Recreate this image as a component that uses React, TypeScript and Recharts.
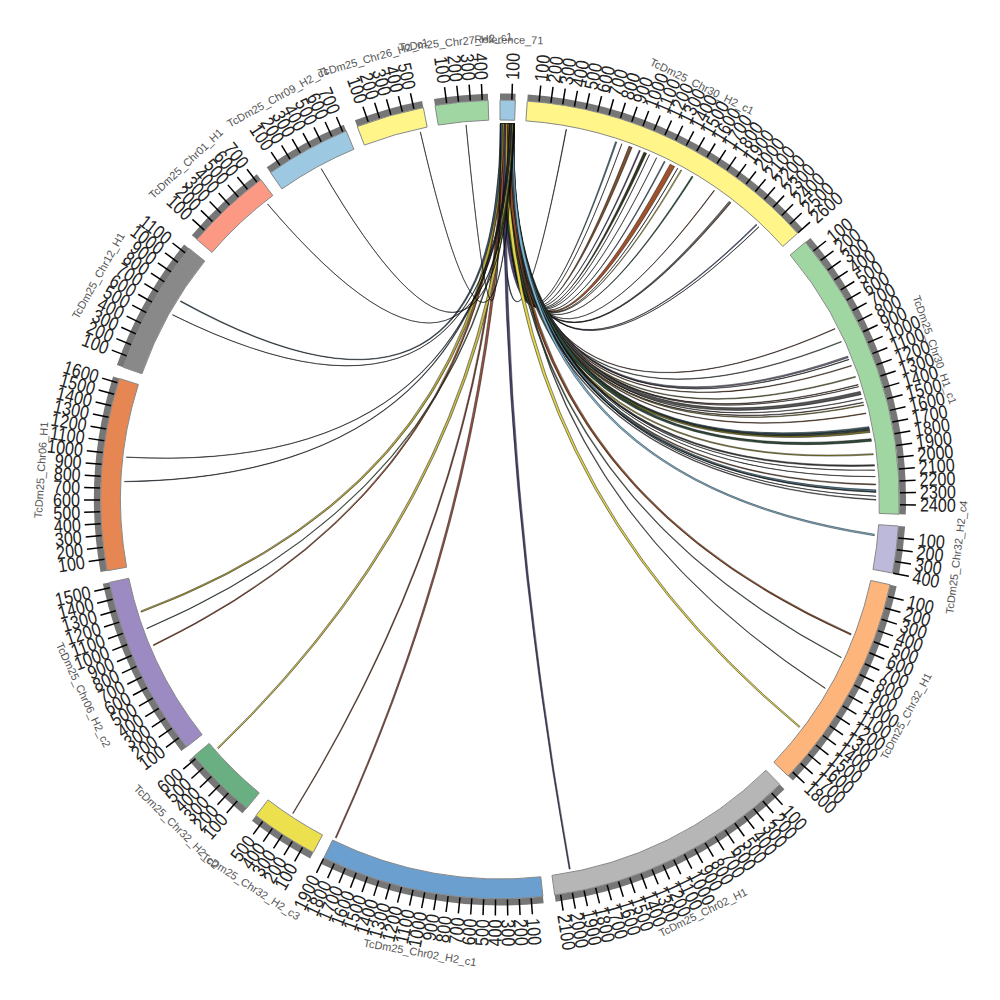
import React from 'react';
import { PieChart, Pie, Cell } from 'recharts';

const sectorNames = ['Reference_71','TcDm25_Chr30_H2_c1','TcDm25_Chr30_H1_c1','TcDm25_Chr32_H2_c4','TcDm25_Chr32_H1','TcDm25_Chr02_H1','TcDm25_Chr02_H2_c1','TcDm25_Chr32_H2_c3','TcDm25_Chr32_H2_c2','TcDm25_Chr06_H2_c2','TcDm25_Chr06_H1','TcDm25_Chr12_H1','TcDm25_Chr01_H1','TcDm25_Chr09_H2_c1','TcDm25_Chr26_H2_c1','TcDm25_Chr27_H2_c1'];
const sectorSizes = [130,2600,2480,400,1850,2150,1900,575,625,1545,1640,1150,740,730,580,450];
const sectorColors = ['#9CC8E2','#FFF588','#A0D6A2','#BDB9DA','#FDB57B','#B6B6B6','#6A9FD0','#EDE04F','#6AAF81','#9B8BC2','#E68653','#898989','#FC9985','#9CC8E2','#FFF588','#A0D6A2'];
const GAP_KB = 100;

const linkSector = [1,1,1,1,1,1,1,1,1,1,1,1,1,1,1,1,1,1, 2,2,2,2,2,2,2,2,2,2,2,2,2,2,2,2,2,2,2,2,2,2,2,2,2,2, 3, 4,4,4,4, 5, 6, 7, 8, 9,9,9, 10,10, 11,11, 12, 13, 14, 15];
const linkStart = [364,821,880,948,1047,1092,1145,1215,1291,1350,1426,1459,1573,1808,1975,1992,2293,2325, 768,896,1040,1070,1129,1234,1310,1375,1440,1475,1499,1575,1700,1718,1738,1810,1945,2044,2092,2218,2270,2288,2326,2356,1330,2150, 87, 505,733,1044,1455, 1980, 1878, 322, 536, 905,1068,1224, 762,982, 591,729, 656, 392, 511, 245];
const linkSpan = [5,12,2,30,10,26,2,2,9,46,2,9,12,5,14,4,9,2, 5,6,15,4,6,8,6,30,4,6,6,6,18,18,15,23,10,13,2,8,17,5,2,6,2,2, 14, 12,5,4,13, 10, 10, 6, 12, 8,4,12, 4,3, 2,8, 2, 2, 2, 2];
const linkRef = [8,88,96,70,14,54,104,36,78,62,110,46,28,92,40,58,74,84, 50,24,68,112,42,33,100,60,118,18,38,80,66,52,12,76,30,44,122,56,86,72,106,26,98,116, 100, 64,48,108,34, 30, 22, 16, 90, 20,120,6, 94,102, 82,3, 125, 127, 124, 1];
const linkColors = ['#2F5060','#4A7A94','#333','#7A5030','#5A4A80','#30381F','#333','#666','#5A8299','#A0522D','#333','#D4C850','#1F5A3A','#8A4A30','#777','#B07040','#5A6FA0','#333',
  '#8A4A30','#5F7F5A','#77708A','#444','#8A4A28','#8F8A40','#5A3020','#555555','#444','#5A3525','#B5A83E','#9A6030','#42606E','#3A4A44','#8A8230','#2F4A3A','#A89E3A','#444','#333','#8A5A3A','#5A7F90','#555','#333','#666','#8A5A3A','#333',
  '#7FB6D2', '#8A4A25','#4F6F4F','#666','#E0D450', '#4A4570', '#9A5545', '#8A4A30', '#C8BC50', '#9A5030','#4F6F4F','#B5A83E', '#3A5060','#3A5060', '#333','#3A5A70', '#333','#333','#333','#333'];

const TICK_STEP = 100;
const sectorStarts = sectorSizes.reduce<number[]>((acc, s, i) => [...acc, i === 0 ? 0 : acc[i - 1] + sectorSizes[i - 1] + GAP_KB], []);
const totalKb = sectorSizes.reduce((a, b) => a + b, 0) + GAP_KB * sectorSizes.length;

const ringData = sectorSizes.flatMap((size, i) => [
  { value: size, kind: 'sector', sector: i },
  { value: GAP_KB, kind: 'gap', sector: i },
]);

const tickData = sectorSizes.flatMap((size, i) => {
  const rows: any[] = [];
  let at = 0;
  while (at + TICK_STEP <= size) {
    at += TICK_STEP;
    rows.push({ value: TICK_STEP, kind: 'tick', text: String(at) });
  }
  if (size > at) rows.push({ value: size - at, kind: 'rest' });
  rows.push({ value: GAP_KB, kind: 'gap' });
  return rows;
});

const linkOrder = linkSector.map((_, i) => i).sort((a, b) => (sectorStarts[linkSector[a]] + linkStart[a]) - (sectorStarts[linkSector[b]] + linkStart[b]));
const linkData: any[] = [];
{
  let cursor = 0;
  linkOrder.forEach((i) => {
    const from = sectorStarts[linkSector[i]] + linkStart[i];
    if (from > cursor) linkData.push({ value: from - cursor, kind: 'gap' });
    linkData.push({ value: linkSpan[i], kind: 'link', link: i });
    cursor = Math.max(cursor, from) + linkSpan[i];
  });
  if (cursor < totalKb) linkData.push({ value: totalKb - cursor, kind: 'gap' });
}

const CX = 500;
const CY = 499.5;
const R_INNER = 379.5;
const R_OUTER = 399.3;
const R_STRIP = 406;
const R_LINK = 376;
const CTRL_Y = 477;
const CTRL_SPREAD = 0.5;
const REF_WIDEN = 2.5;
const TICK_IN = 400;
const TICK_OUT = 416;
const TICK_TEXT = 420;
const NAME_R = 460;

const polar = (deg: number, r: number) => {
  const t = (deg * Math.PI) / 180;
  return [CX + r * Math.cos(t), CY - r * Math.sin(t)];
};

const renderLink = (p: any) => {
  const row = p.payload ?? p;
  if (row.kind !== 'link') return <g key={p.index} />;
  const i = row.link;
  const a1 = p.startAngle;
  const a2 = p.endAngle;
  const refEnd = Math.min(sectorSizes[0], linkRef[i] + linkSpan[i] * REF_WIDEN);
  const r1 = 90 - (linkRef[i] * 360) / totalKb;
  const r2 = 90 - (refEnd * 360) / totalKb;
  const A = polar(a1, R_LINK);
  const B = polar(a2, R_LINK);
  const C = polar(r1, R_LINK);
  const D = polar(r2, R_LINK);
  const vx = (B[0] - A[0] + C[0] - D[0]) / 2;
  const vy = (B[1] - A[1] + C[1] - D[1]) / 2;
  const c1 = [CX - CTRL_SPREAD * vx, CTRL_Y - CTRL_SPREAD * vy];
  const c2 = [CX + CTRL_SPREAD * vx, CTRL_Y + CTRL_SPREAD * vy];
  const d = `M${A[0]},${A[1]} A${R_LINK},${R_LINK} 0 0 1 ${B[0]},${B[1]} Q${c2[0]},${c2[1]} ${C[0]},${C[1]} A${R_LINK},${R_LINK} 0 0 1 ${D[0]},${D[1]} Q${c1[0]},${c1[1]} ${A[0]},${A[1]} Z`;
  return <path key={p.index} d={d} fill={linkColors[i]} stroke="#000" strokeWidth={0.45} />;
};

const renderTick = (p: any) => {
  const row = p.payload ?? p;
  if (row.kind !== 'tick') return <g key={p.index} />;
  const a = p.endAngle;
  const theta = 90 - a;
  const norm = ((theta % 360) + 360) % 360;
  const [x1, y1] = polar(a, TICK_IN);
  const [x2, y2] = polar(a, TICK_OUT);
  const [tx, ty] = polar(a, TICK_TEXT);
  const right = norm < 180;
  const rot = right ? norm - 90 : norm + 90;
  return (
    <g key={p.index}>
      <line x1={x1} y1={y1} x2={x2} y2={y2} stroke="#000" strokeWidth={1.5} />
      <text x={0} y={0} transform={`translate(${tx} ${ty}) rotate(${rot}) scale(0.85 1)`} textAnchor={right ? 'start' : 'end'} dominantBaseline="central" fontFamily="Liberation Sans" fontSize={19} fill="#222" stroke="none">{row.text}</text>
    </g>
  );
};

const renderName = (p: any) => {
  const row = p.payload ?? p;
  if (row.kind !== 'sector') return <g key={p.index} />;
  const a = (p.startAngle + p.endAngle) / 2;
  const theta = ((90 - a) % 360 + 360) % 360;
  const [x, y] = polar(a, NAME_R);
  const rot = theta > 90 && theta < 270 ? theta - 180 : theta;
  return <text key={p.index} x={x} y={y} transform={`rotate(${rot} ${x} ${y})`} textAnchor="middle" dominantBaseline="central" fontFamily="Liberation Sans" fontSize={11} fill="#555" stroke="none">{sectorNames[row.sector]}</text>;
};

const common = { dataKey: 'value', cx: CX, cy: CY, startAngle: 90, endAngle: -270, paddingAngle: 0, isAnimationActive: false, labelLine: false };

export default function App() {
  return (
    <div style={{ position: 'absolute', left: 0, top: 0, width: 1000, height: 1000, background: '#fff' }}>
      <PieChart width={1000} height={1000} margin={{ top: 0, right: 0, bottom: 0, left: 0 }}>
        <Pie {...common} data={linkData} innerRadius={R_LINK - 1} outerRadius={R_LINK} label={renderLink}>
          {linkData.map((_, i) => <Cell key={i} fill="none" stroke="none" />)}
        </Pie>
        <Pie {...common} data={ringData} innerRadius={R_OUTER} outerRadius={R_STRIP} label={false}>
          {ringData.map((d, i) => <Cell key={i} fill={d.kind === 'gap' ? 'none' : '#767676'} stroke="none" />)}
        </Pie>
        <Pie {...common} data={ringData} innerRadius={R_INNER} outerRadius={R_OUTER} label={renderName}>
          {ringData.map((d, i) => <Cell key={i} fill={d.kind === 'gap' ? 'none' : sectorColors[d.sector]} stroke={d.kind === 'gap' ? 'none' : '#888'} strokeWidth={1} />)}
        </Pie>
        <Pie {...common} data={tickData} innerRadius={TICK_IN} outerRadius={TICK_OUT} label={renderTick}>
          {tickData.map((_, i) => <Cell key={i} fill="none" stroke="none" />)}
        </Pie>
      </PieChart>
    </div>
  );
}
